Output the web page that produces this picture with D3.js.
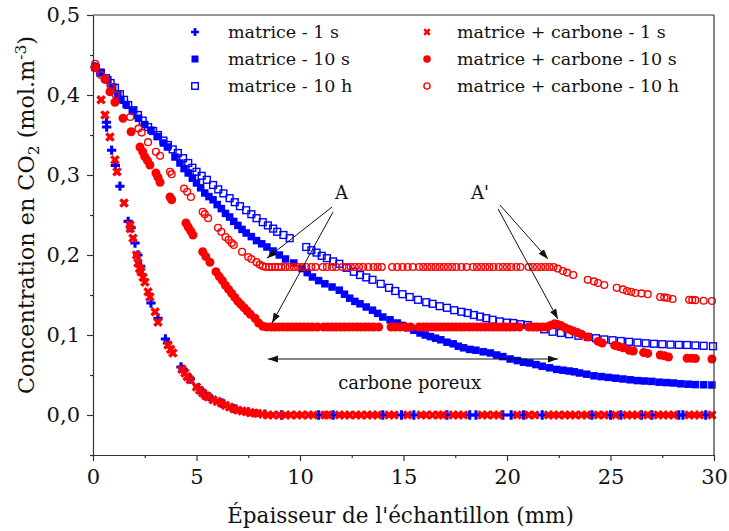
<!DOCTYPE html>
<html>
<head>
<meta charset="utf-8">
<script src="https://cdn.jsdelivr.net/npm/d3@7"></script>
<style>
  body { margin: 0; background: #fff; }
  svg { font-family: "DejaVu Serif", "Liberation Serif", serif; }
</style>
</head>
<body>
<svg width="729" height="531"></svg>
<script>
// values (x in mm, y in mol.m-3)
var matrice1s = [
  [0.1,0.435],[0.65,0.366],[0.66,0.360],[0.9,0.331],[1.08,0.312],[1.3,0.286],[1.7,0.242],[1.84,0.234],
  [2.03,0.215],[2.17,0.200],[2.3,0.186],[2.8,0.140],[3.14,0.121],[3.5,0.095],[3.6,0.090],[4.25,0.060],
  [4.35,0.057],[4.7,0.045],[5.07,0.034],[5.3,0.028],[5.6,0.023],[6.2,0.015],[6.8,0.008],[7.5,0.004],
  [8.3,0.001],[9.1,0],[10.9,0],[11.6,0],[14.0,0],[14.9,0],[15.5,0],[17.1,0],[18.2,0],[18.5,0],[19.8,0],
  [20.2,0],[20.8,0],[21.7,0],[24.1,0],[25.0,0],[25.5,0],[26.5,0],[27.0,0],[28.3,0],[28.5,0],[29.6,0]
];
var matrice10s = [
  [0.15,0.434],[0.4,0.428],[0.72,0.419],[0.95,0.410],[1.2,0.400],[1.35,0.394],[1.6,0.388],[1.9,0.380],
  [2.2,0.371],[2.5,0.363],[2.8,0.356],[3.1,0.348],[3.4,0.340],[3.6,0.335],[3.96,0.3225],[4.2,0.315],
  [4.4,0.308],[4.6,0.3025],[4.8,0.296],[5.0,0.290],[5.2,0.284],[5.4,0.2775],[5.6,0.273],[5.8,0.269],
  [6.0,0.263],[6.2,0.258],[6.4,0.252],[6.6,0.2475],[6.8,0.242],[7.0,0.237],[7.2,0.232],[7.4,0.2275],
  [7.65,0.223],[7.9,0.218],[8.15,0.214],[8.4,0.210],[8.7,0.205],[9.0,0.200],[9.3,0.195],[9.7,0.190],
  [10.1,0.183],[10.35,0.178],[10.6,0.1725],[10.9,0.168],[11.2,0.164],[11.55,0.160],[11.9,0.156],
  [12.15,0.151],[12.4,0.146],[12.65,0.142],[12.9,0.139],[13.2,0.135],[13.5,0.131],[13.75,0.127],
  [14.0,0.1225],[14.35,0.119],[14.7,0.115],[14.95,0.112],[15.2,0.109],[15.5,0.106],[15.8,0.1025],
  [16.05,0.100],[16.3,0.098],[16.55,0.096],[16.8,0.094],[17.1,0.091],[17.4,0.089],[17.65,0.086],
  [17.9,0.084],[18.2,0.082],[18.5,0.081],[18.85,0.079],[19.2,0.0775],[19.5,0.075],[19.8,0.073],
  [20.15,0.070],[20.5,0.068],[20.8,0.066],[21.1,0.065],[21.4,0.063],[21.7,0.061],[22.05,0.059],
  [22.4,0.057],[22.7,0.056],[23.0,0.055],[23.25,0.054],[23.5,0.0525],[23.85,0.051],[24.2,0.049],
  [24.55,0.048],[24.9,0.047],[25.25,0.046],[25.6,0.045],[25.95,0.044],[26.3,0.043],[26.65,0.0425],
  [27.0,0.042],[27.35,0.041],[27.7,0.0405],[28.05,0.040],[28.4,0.039],[28.75,0.0385],[29.1,0.038],
  [29.5,0.0378],[29.9,0.0375]
];
var matrice10h = [
  [0.1,0.435],[0.35,0.428],[0.63,0.421],[0.85,0.415],[1.06,0.409],[1.3,0.401],[1.5,0.394],[1.7,0.3875],
  [1.95,0.381],[2.17,0.375],[2.4,0.368],[2.66,0.360],[2.9,0.355],[3.14,0.350],[3.4,0.343],[3.62,0.3375],
  [3.85,0.332],[4.1,0.3275],[4.35,0.321],[4.6,0.315],[4.8,0.309],[5.0,0.304],[5.25,0.299],[5.5,0.294],
  [5.8,0.2875],[6.05,0.282],[6.3,0.277],[6.6,0.271],[6.85,0.266],[7.1,0.261],[7.4,0.256],[7.65,0.251],
  [7.9,0.246],[8.2,0.241],[8.45,0.237],[8.7,0.233],[8.9,0.229],[9.2,0.225],[9.5,0.221],[10.3,0.210],
  [10.55,0.206],[10.8,0.203],[11.05,0.199],[11.3,0.196],[11.6,0.192],[11.9,0.189],[12.25,0.184],
  [12.6,0.179],[12.9,0.175],[13.2,0.172],[13.5,0.169],[13.9,0.164],[14.3,0.159],[14.6,0.155],
  [14.95,0.151],[15.3,0.1475],[15.7,0.144],[16.1,0.141],[16.4,0.139],[16.75,0.136],[17.1,0.134],
  [17.45,0.131],[17.8,0.129],[18.1,0.1275],[18.4,0.125],[18.7,0.123],[19.0,0.121],[19.3,0.119],
  [19.65,0.117],[20.0,0.1155],[20.3,0.115],[20.65,0.1135],[21.0,0.1125],[21.4,0.110],[21.8,0.107],
  [22.2,0.104],[22.6,0.1025],[23.0,0.101],[23.45,0.099],[23.9,0.0975],[24.3,0.096],[24.7,0.0945],
  [25.1,0.0935],[25.5,0.0925],[25.9,0.0915],[26.3,0.0905],[26.7,0.0897],[27.1,0.089],[27.5,0.0885],
  [27.9,0.088],[28.3,0.0877],[28.7,0.0875],[29.1,0.087],[29.5,0.0865],[29.95,0.086]
];
var carbone1s = [
  [0.39,0.394],[0.58,0.375],[0.82,0.3475],[1.06,0.319],[1.16,0.304],[1.5,0.265],[1.79,0.2375],[1.8,0.233],
  [1.93,0.221],[2.1,0.200],[2.17,0.190],[2.25,0.183],[2.32,0.179],[2.42,0.172],[2.51,0.166],[2.66,0.154],
  [2.75,0.1475],[3.0,0.129],[3.14,0.116],[3.62,0.0875],[3.75,0.082],[3.86,0.0775],[4.3,0.057],[4.44,0.0525],
  [4.55,0.048],[4.69,0.044],[5.0,0.035],[5.15,0.031],[5.3,0.0275],[5.45,0.024],[5.56,0.0225],[5.8,0.019],
  [6.0,0.017],[6.2,0.015],[6.4,0.012],[6.6,0.010],[6.8,0.008],[7.0,0.006],[7.2,0.005],[7.4,0.004],
  [7.6,0.003],[7.8,0.0025],[7.95,0.002],[8.2,0.001],[8.45,0],[8.7,0],[9.0,0],[9.3,0],[9.55,0],[9.85,0],
  [10.1,0],[10.4,0],[10.65,0],[11.2,0],[11.35,0],[11.9,0],[12.15,0],[12.4,0],[12.7,0],[12.95,0],[13.25,0],
  [13.5,0],[13.75,0],[14.3,0],[14.55,0],[15.2,0],[15.85,0],[16.1,0],[16.4,0],[16.7,0],[16.9,0],[17.4,0],
  [17.65,0],[17.9,0],[18.8,0],[19.05,0],[19.35,0],[19.6,0],[20.5,0],[21.05,0],[21.35,0],[22.0,0],[22.25,0],
  [22.5,0],[22.8,0],[23.05,0],[23.3,0],[23.6,0],[23.85,0],[24.4,0],[24.7,0],[25.25,0],[25.8,0],[26.05,0],
  [26.3,0],[26.8,0],[27.3,0],[27.55,0],[27.8,0],[28.05,0],[28.8,0],[29.05,0],[29.3,0],[29.9,0]
];
var carbone10s = [
  [0.1,0.434],[0.58,0.420],[0.82,0.404],[1.06,0.391],[1.45,0.371],[1.84,0.354],[2.27,0.335],[2.4,0.329],
  [2.5,0.323],[2.63,0.318],[2.75,0.3125],[3.04,0.3025],[3.14,0.297],[3.24,0.291],[3.72,0.2725],[3.8,0.269],
  [4.49,0.240],[4.6,0.235],[4.72,0.230],[4.83,0.225],[5.3,0.204],[5.45,0.198],[5.65,0.191],[5.94,0.179],
  [6.1,0.173],[6.25,0.168],[6.4,0.162],[6.55,0.157],[6.7,0.152],[6.85,0.147],[7.0,0.142],[7.15,0.138],
  [7.3,0.134],[7.45,0.130],[7.6,0.126],[7.83,0.121],[8.0,0.115],[8.2,0.111],
  [8.4,0.11],[8.6,0.11],[8.8,0.11],[9.0,0.11],[9.2,0.11],[9.4,0.11],[9.6,0.11],[9.8,0.11],[10.0,0.11],
  [10.2,0.11],[10.4,0.11],[10.6,0.11],[10.85,0.11],[11.15,0.11],[11.35,0.11],[11.55,0.11],[11.75,0.11],
  [11.95,0.11],[12.15,0.11],[12.35,0.11],[12.55,0.11],[12.75,0.11],[12.95,0.11],[13.15,0.11],[13.35,0.11],
  [13.55,0.11],[13.8,0.11],[14.4,0.11],[14.6,0.11],[14.85,0.11],[15.1,0.11],[15.35,0.11],[15.75,0.11],
  [15.95,0.11],[16.15,0.11],[16.35,0.11],[16.55,0.11],[16.75,0.11],[16.95,0.11],[17.15,0.11],[17.35,0.11],
  [17.55,0.11],[17.75,0.11],[17.95,0.11],[18.15,0.11],[18.35,0.11],[18.55,0.11],[18.75,0.11],[18.95,0.11],
  [19.15,0.11],[19.35,0.11],[19.55,0.11],[19.75,0.11],[19.95,0.11],[20.15,0.11],[20.35,0.11],[20.6,0.11],
  [21.05,0.11],[21.25,0.11],[21.45,0.11],[21.7,0.11],[21.9,0.11],
  [22.1,0.112],[22.3,0.114],[22.45,0.113],[22.6,0.112],[22.8,0.109],[23.0,0.107],[23.2,0.105],[23.4,0.103],
  [23.6,0.101],[23.9,0.0975],[24.4,0.092],[24.6,0.090],[25.2,0.087],[25.4,0.0855],[25.6,0.084],[25.9,0.081],
  [26.1,0.080],[26.6,0.078],[26.8,0.077],[27.4,0.075],[27.6,0.074],[27.8,0.0725],[28.7,0.071],[28.9,0.071],
  [29.1,0.0705],[29.9,0.070]
];
var carbone10h = [
  [0.1,0.439],[0.39,0.425],[0.58,0.419],[0.87,0.410],[1.1,0.400],[1.8,0.3725],[2.2,0.358],[2.35,0.353],
  [2.66,0.341],[3.04,0.329],[3.24,0.324],[3.72,0.304],[3.8,0.301],[4.4,0.283],[4.55,0.279],[4.73,0.2725],
  [5.3,0.254],[5.4,0.251],[5.56,0.246],[6.04,0.234],[6.2,0.229],[6.4,0.2225],[6.55,0.219],[6.7,0.215],
  [6.8,0.2125],[7.2,0.204],[7.5,0.1975],[7.65,0.195],[7.9,0.191],[8.05,0.188],[8.2,0.186],
  [8.35,0.185],[8.5,0.185],[8.65,0.185],[8.8,0.185],[8.95,0.185],[9.1,0.185],[9.3,0.185],[9.5,0.185],
  [9.7,0.185],[9.9,0.185],[10.1,0.185],[10.3,0.185],[10.55,0.185],[10.75,0.185],[11.1,0.185],[11.3,0.185],
  [11.55,0.185],[11.75,0.185],[12.05,0.185],[12.25,0.185],[12.45,0.185],[12.65,0.185],[12.85,0.185],
  [13.05,0.185],[13.3,0.185],[13.55,0.185],[13.75,0.185],[13.95,0.185],[14.45,0.185],[14.7,0.185],
  [14.95,0.185],[15.2,0.185],[15.45,0.185],[15.75,0.185],[15.95,0.185],[16.15,0.185],[16.35,0.185],
  [16.55,0.185],[16.75,0.185],[16.95,0.185],[17.15,0.185],[17.35,0.185],[17.55,0.185],[17.8,0.185],
  [18.05,0.185],[18.35,0.185],[18.55,0.185],[18.75,0.185],[18.95,0.185],[19.15,0.185],[19.35,0.185],
  [19.6,0.185],[19.8,0.185],[20.0,0.185],[20.2,0.185],[20.45,0.185],[20.65,0.185],[21.05,0.185],
  [21.25,0.185],[21.45,0.185],[21.65,0.185],[21.85,0.185],[22.05,0.185],[22.25,0.185],
  [22.45,0.183],[22.7,0.180],[22.9,0.178],[23.2,0.175],[23.9,0.169],[24.2,0.167],[24.4,0.165],[24.7,0.1625],
  [25.3,0.159],[25.6,0.157],[25.8,0.155],[26.0,0.154],[26.2,0.1525],[26.5,0.152],[26.8,0.151],[27.4,0.1475],
  [27.6,0.147],[27.75,0.1465],[28.0,0.145],[28.8,0.144],[28.95,0.1438],[29.1,0.1435],[29.5,0.1428],
  [29.9,0.1425]
];

var xMajor = [0, 5, 10, 15, 20, 25, 30];
var xMinor = [2.5, 7.5, 12.5, 17.5, 22.5, 27.5];
var yMajor = [0, 0.1, 0.2, 0.3, 0.4, 0.5];
var yMinor = [-0.05, 0.05, 0.15, 0.25, 0.35, 0.45];

var legendLabels = ["matrice - 1 s", "matrice - 10 s", "matrice - 10 h",
                    "matrice + carbone - 1 s", "matrice + carbone - 10 s", "matrice + carbone - 10 h"];

var svg = d3.select("svg"),
    mLeft = 93, mRight = 714, mTop = 15, mBottom = 455;

var x = d3.scaleLinear().domain([0, 30]).range([mLeft, mRight]);
var y = d3.scaleLinear().domain([-0.05, 0.5]).range([mBottom, mTop]);

var blue = "#0000ff", red = "#ff0000";

// markers
function drawPlus(g, cx, cy, s) {
  g.append("path").attr("d", d3.symbol().type(d3.symbolCross).size(s)())
    .attr("transform", "translate(" + cx + "," + cy + ")").attr("fill", blue);
}
function drawX(g, cx, cy, s) {
  g.append("path").attr("d", d3.symbol().type(d3.symbolCross).size(s)())
    .attr("transform", "translate(" + cx + "," + cy + ") rotate(45)").attr("fill", red);
}
function drawSquare(g, cx, cy, w, open) {
  g.append("rect").attr("x", cx - w / 2).attr("y", cy - w / 2).attr("width", w).attr("height", w)
    .attr("fill", open ? "none" : blue).attr("stroke", blue).attr("stroke-width", open ? 1.4 : 0);
}
function drawCircle(g, cx, cy, r, open) {
  g.append("circle").attr("cx", cx).attr("cy", cy).attr("r", r)
    .attr("fill", open ? "none" : red).attr("stroke", red).attr("stroke-width", open ? 1.4 : 0);
}

var plot = svg.append("g");
var g1 = plot.append("g");
matrice1s.forEach(function (d) { drawPlus(g1, x(d[0]), y(d[1]), 48); });
var g2 = plot.append("g");
matrice10s.forEach(function (d) { drawSquare(g2, x(d[0]), y(d[1]), 7.5, false); });
var g3 = plot.append("g");
matrice10h.forEach(function (d) { drawSquare(g3, x(d[0]), y(d[1]), 6.8, true); });
var g4 = plot.append("g");
carbone1s.forEach(function (d) { drawX(g4, x(d[0]), y(d[1]), 58); });
var g5 = plot.append("g");
carbone10s.forEach(function (d) { drawCircle(g5, x(d[0]), y(d[1]), 4.5, false); });
var g6 = plot.append("g");
carbone10h.forEach(function (d) { drawCircle(g6, x(d[0]), y(d[1]), 3.4, true); });

// axes
var fmt = function (d) { return d3.format(".1f")(d).replace(".", ","); };

svg.append("g").attr("transform", "translate(0," + mBottom + ")")
  .call(d3.axisBottom(x).tickValues(xMajor).tickSize(6).tickSizeOuter(0).tickPadding(8).tickFormat(d3.format("d")));
svg.append("g").attr("transform", "translate(0," + mBottom + ")")
  .call(d3.axisBottom(x).tickValues(xMinor).tickSize(3).tickSizeOuter(0).tickFormat(""))
  .select(".domain").remove();

svg.append("g").attr("transform", "translate(" + mLeft + ",0)")
  .call(d3.axisLeft(y).tickValues(yMajor).tickSize(6).tickSizeOuter(0).tickPadding(7).tickFormat(fmt));
svg.append("g").attr("transform", "translate(" + mLeft + ",0)")
  .call(d3.axisLeft(y).tickValues(yMinor).tickSize(3).tickSizeOuter(0).tickFormat(""))
  .select(".domain").remove();

svg.selectAll(".domain, .tick line").attr("stroke", "#333").attr("stroke-width", 1.2);
svg.selectAll(".tick text").attr("font-family", "DejaVu Serif").attr("font-size", 21).attr("fill", "#111");

// frame top and right
svg.append("line").attr("x1", mLeft).attr("x2", mRight).attr("y1", mTop).attr("y2", mTop)
  .attr("stroke", "#333").attr("stroke-width", 1.2);
svg.append("line").attr("x1", mRight).attr("x2", mRight).attr("y1", mTop).attr("y2", mBottom)
  .attr("stroke", "#333").attr("stroke-width", 1.2);

// axis titles
svg.append("text").attr("x", (mLeft + mRight) / 2 - 3).attr("y", 523)
  .attr("text-anchor", "middle").attr("font-size", 21.5).attr("fill", "#111")
  .text("Épaisseur de l'échantillon (mm)");

var yt = svg.append("text").attr("transform", "translate(34,215) rotate(-90)")
  .attr("text-anchor", "middle").attr("font-size", 22.3).attr("fill", "#111");
yt.append("tspan").text("Concentration en CO");
yt.append("tspan").attr("dy", 5).attr("font-size", 15.5).text("2");
yt.append("tspan").attr("dy", -5).text(" (mol.m");
yt.append("tspan").attr("dy", -8).attr("font-size", 15.5).text("-3");
yt.append("tspan").attr("dy", 8).text(")");

// legend
var legend = svg.append("g").attr("font-size", 17.5).attr("fill", "#111");
var rowsY = [32, 59, 86];
drawPlus(legend, 195, rowsY[0], 36);
drawSquare(legend, 195, rowsY[1], 7, false);
drawSquare(legend, 195, rowsY[2], 6.5, true);
drawX(legend, 427, rowsY[0], 34);
drawCircle(legend, 427, rowsY[1], 3.8, false);
drawCircle(legend, 427, rowsY[2], 3.1, true);
legendLabels.forEach(function (t, i) {
  legend.append("text").attr("x", i < 3 ? 228 : 457).attr("y", rowsY[i % 3] + 6).text(t);
});

// annotations (data units)
var defs = svg.append("defs");
defs.append("marker").attr("id", "arrow").attr("markerUnits", "userSpaceOnUse")
  .attr("markerWidth", 10).attr("markerHeight", 8).attr("refX", 10).attr("refY", 3.5)
  .attr("orient", "auto-start-reverse")
  .append("path").attr("d", "M0,0 L10,3.5 L0,7 Z").attr("fill", "#111");

var arrows = [
  [11.55, 0.260, 8.4, 0.196],
  [11.6, 0.254, 8.65, 0.115],
  [19.66, 0.2625, 21.98, 0.195],
  [19.57, 0.2575, 22.46, 0.12]
];
var ann = svg.append("g");
arrows.forEach(function (a) {
  ann.append("line").attr("x1", x(a[0])).attr("y1", y(a[1])).attr("x2", x(a[2])).attr("y2", y(a[3]))
    .attr("stroke", "#111").attr("stroke-width", 1).attr("marker-end", "url(#arrow)");
});
ann.append("line").attr("x1", x(8.45)).attr("x2", x(22.46)).attr("y1", y(0.07)).attr("y2", y(0.07))
  .attr("stroke", "#111").attr("stroke-width", 1.2)
  .attr("marker-start", "url(#arrow)").attr("marker-end", "url(#arrow)");

ann.append("text").attr("x", x(12.0)).attr("y", y(0.2695)).attr("text-anchor", "middle")
  .attr("font-size", 18).attr("fill", "#111").text("A");
ann.append("text").attr("x", x(18.7)).attr("y", y(0.2695)).attr("text-anchor", "middle")
  .attr("font-size", 18).attr("fill", "#111").text("A'");
ann.append("text").attr("x", x(15.3)).attr("y", y(0.033)).attr("text-anchor", "middle")
  .attr("font-size", 18).attr("fill", "#111").text("carbone poreux");
</script>
</body>
</html>
